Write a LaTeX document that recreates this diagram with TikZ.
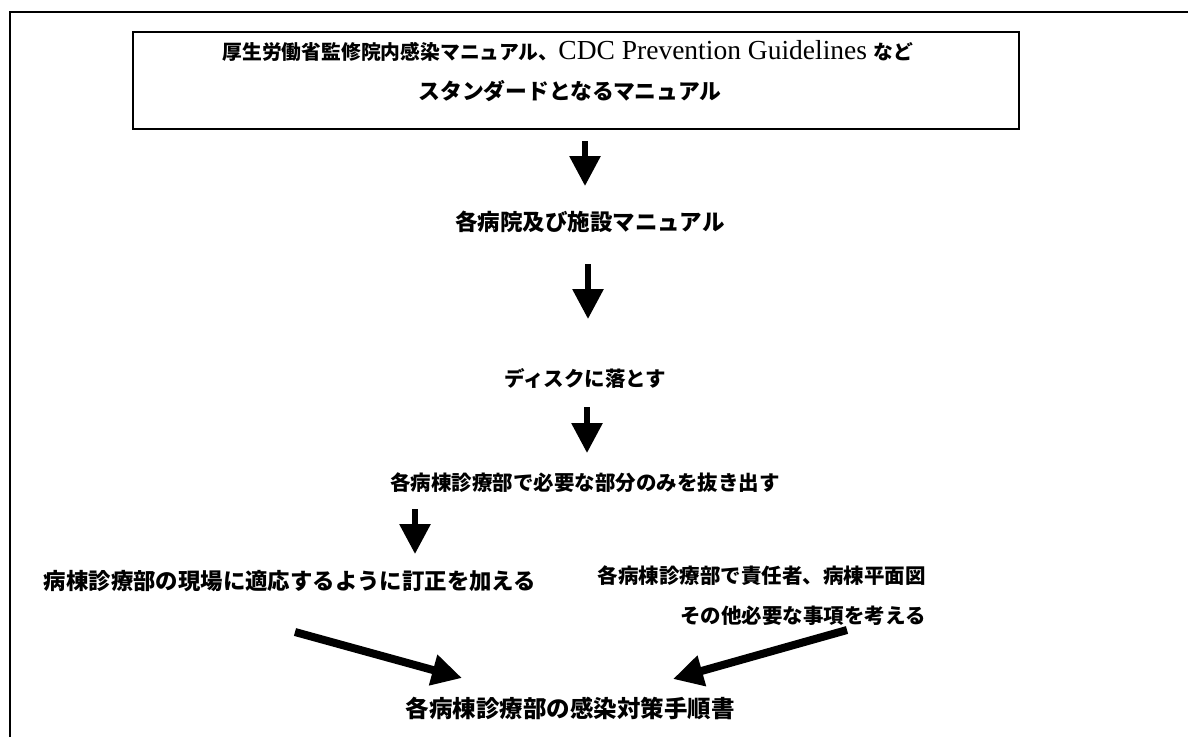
\documentclass[tikz,border=0pt]{standalone}
\usepackage{fontspec}
\setmainfont{Liberation Serif}
\newfontfamily\jp{Noto Sans CJK JP}
\usetikzlibrary{arrows.meta}
\tikzset{
  txt/.style={inner sep=0pt, font=\jp\bfseries\fontsize{20.5}{40}\selectfont},
  frame/.style={line width=2pt},
  arr/.style={line width=6pt, -{Triangle[width=30pt,length=30pt]}},
  darr/.style={line width=8pt, -{Triangle[width=30pt,length=30pt]}}
}
\begin{document}
\begin{tikzpicture}[x=1pt,y=-1pt]
\useasboundingbox (0,0) rectangle (1194,737);
% outer frame (partial)
\draw[frame] (10,737) -- (10,12) -- (1188,12);
% top box
\node[draw, line width=2pt, minimum width=886pt, minimum height=97pt, inner sep=0pt] (top) at (576,80.5) {};
\node[txt, font=\jp\bfseries\fontsize{19.8}{24}\selectfont] (t1) at (568,51) {厚生労働省監修院内感染マニュアル、{\rmfamily\mdseries\fontsize{27.5}{30}\selectfont CDC Prevention Guidelines }など};
\node[txt, font=\jp\bfseries\fontsize{21.8}{24}\selectfont] (t2) at (570,91) {スタンダードとなるマニュアル};
\node[txt, font=\jp\bfseries\fontsize{22.5}{24}\selectfont] (n2) at (590,222) {各病院及び施設マニュアル};
\node[txt] (n3) at (585,378) {ディスクに落とす};
\node[txt] (n4) at (585,483) {各病棟診療部で必要な部分のみを抜き出す};
\node[txt, font=\jp\bfseries\fontsize{22.4}{24}\selectfont] (n5) at (290,581) {病棟診療部の現場に適応するように訂正を加える};
\node[txt, align=right, anchor=north east] (n6) at (926,566) {各病棟診療部で責任者、病棟平面図\\その他必要な事項を考える};
\node[txt, font=\jp\bfseries\fontsize{23.5}{24}\selectfont] (n7) at (570,708) {各病棟診療部の感染対策手順書};
% arrow coordinates
\coordinate (a1s) at (585,141);
\coordinate (a1e) at (585,186);
\coordinate (a2s) at (588,264);
\coordinate (a2e) at (588,319);
\coordinate (a3s) at (587,407);
\coordinate (a3e) at (587,453);
\coordinate (a4s) at (415,509);
\coordinate (a4e) at (415,554);
\coordinate (a5s) at (295,632);
\coordinate (a5e) at (462,678);
\coordinate (a6s) at (847,630);
\coordinate (a6e) at (673,679);
\draw[arr] (a1s) -- (a1e);
\draw[arr] (a2s) -- (a2e);
\draw[arr] (a3s) -- (a3e);
\draw[arr] (a4s) -- (a4e);
\draw[darr] (a5s) -- (a5e);
\draw[darr] (a6s) -- (a6e);
\end{tikzpicture}
\end{document}
